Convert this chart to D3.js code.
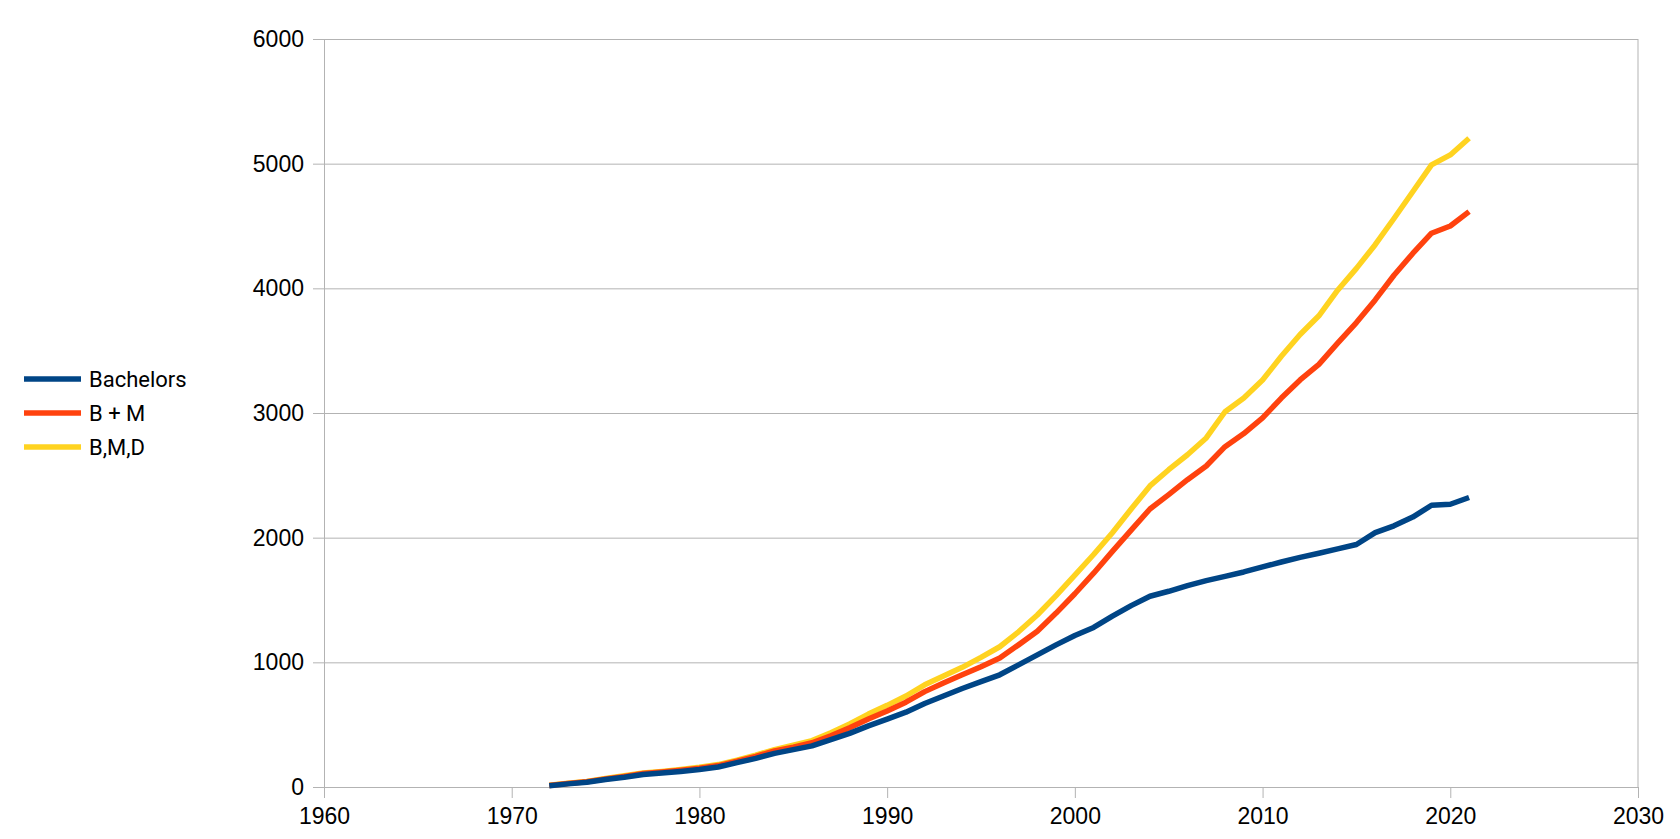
<!DOCTYPE html>
<html>
<head>
<meta charset="utf-8">
<script src="https://cdn.jsdelivr.net/npm/d3@7"></script>
<style>
  body { margin: 0; background: #fff; overflow: hidden; }
  svg { display: block; font-family: Roboto, "Liberation Sans", sans-serif; }
  .tick text { font-size: 23px; fill: #000; }
  .legend text { font-size: 22px; fill: #000; }
</style>
</head>
<body>
<svg id="chart" width="1680" height="839"></svg>
<script>
const years = d3.range(1972, 2022);

const bachelors = [10, 25, 38, 60, 78, 100, 112, 125, 140, 160,
    195, 230, 270, 300, 330, 380, 430, 490, 545, 600,
    670, 730, 790, 845, 900, 980, 1060, 1140, 1215, 1280,
    1370, 1455, 1530, 1570, 1615, 1655, 1690, 1725, 1765, 1805,
    1842, 1875, 1910, 1945, 2040, 2095, 2165, 2260, 2268, 2322];

const bachelorsMasters = [12, 28, 42, 65, 85, 108, 120, 135, 150, 172,
    208, 245, 290, 320, 355, 410, 475, 545, 610, 680,
    765, 835, 900, 965, 1035, 1140, 1250, 1395, 1550, 1715,
    1890, 2060, 2230, 2345, 2465, 2575, 2730, 2835, 2960, 3120,
    3265, 3390, 3560, 3725, 3907, 4105, 4280, 4442, 4500, 4615];

const allDegrees = [14, 30, 45, 68, 90, 112, 125, 140, 158, 180,
    215, 255, 300, 335, 372, 435, 505, 585, 655, 730,
    820, 890, 960, 1040, 1125, 1245, 1380, 1535, 1700, 1865,
    2040, 2230, 2415, 2545, 2665, 2800, 3010, 3120, 3265, 3455,
    3630, 3780, 3985, 4160, 4350, 4560, 4775, 4990, 5070, 5204];

const seriesNames = ["Bachelors", "B + M", "B,M,D"];
const seriesColors = ["#004586", "#ff420e", "#ffd320"];
const seriesValues = [bachelors, bachelorsMasters, allDegrees];

const xTicks = [1960, 1970, 1980, 1990, 2000, 2010, 2020, 2030];
const yTicks = [0, 1000, 2000, 3000, 4000, 5000, 6000];

const svg = d3.select('#chart');
const width = 1680;
const height = 839;
const margin = { top: 39, right: 42, bottom: 52, left: 324 };
const innerWidth = width - margin.left - margin.right;
const innerHeight = height - margin.top - margin.bottom;

const xScale = d3.scaleLinear().domain([1960, 2030]).range([0, innerWidth]);
const yScale = d3.scaleLinear().domain([0, 6000]).range([innerHeight, 0]);

const g = svg.append('g')
    .attr('transform', `translate(${margin.left},${margin.top})`);

// horizontal grid
const gridG = g.append('g').call(d3.axisLeft(yScale)
    .tickValues(yTicks)
    .tickSize(-innerWidth)
    .tickFormat(''));
gridG.select('.domain').remove();
gridG.selectAll('text').remove();
gridG.selectAll('line').attr('stroke', '#b3b3b3');

// right border line
g.append('line')
    .attr('x1', xScale(2030)).attr('x2', xScale(2030))
    .attr('y1', 0).attr('y2', innerHeight)
    .attr('stroke', '#b3b3b3');

const yAxisG = g.append('g').call(d3.axisLeft(yScale)
    .tickValues(yTicks)
    .tickSize(11)
    .tickSizeOuter(0)
    .tickPadding(9)
    .tickFormat(d3.format('d')));
yAxisG.selectAll('line, .domain').attr('stroke', '#b3b3b3');

const xAxisG = g.append('g')
    .attr('transform', `translate(0,${innerHeight})`)
    .call(d3.axisBottom(xScale)
        .tickValues(xTicks)
        .tickSize(11)
        .tickSizeOuter(0)
        .tickPadding(10)
        .tickFormat(d3.format('d')));
xAxisG.selectAll('line, .domain').attr('stroke', '#b3b3b3');

const line = d3.line()
    .x((d, i) => xScale(years[i]))
    .y(d => yScale(d));

// draw yellow, orange, then blue on top
[2, 1, 0].forEach(k => {
    g.append('path')
        .datum(seriesValues[k])
        .attr('fill', 'none')
        .attr('stroke', seriesColors[k])
        .attr('stroke-width', 5.5)
        .attr('stroke-linejoin', 'round')
        .attr('d', line);
});

// legend
const legend = svg.append('g').attr('class', 'legend');
seriesNames.forEach((name, i) => {
    const y = 379 + i * 34;
    legend.append('line')
        .attr('x1', 24).attr('x2', 81)
        .attr('y1', y).attr('y2', y)
        .attr('stroke', seriesColors[i])
        .attr('stroke-width', 5.5);
    legend.append('text')
        .attr('x', 89)
        .attr('y', y + 8)
        .text(name);
});
</script>
</body>
</html>
